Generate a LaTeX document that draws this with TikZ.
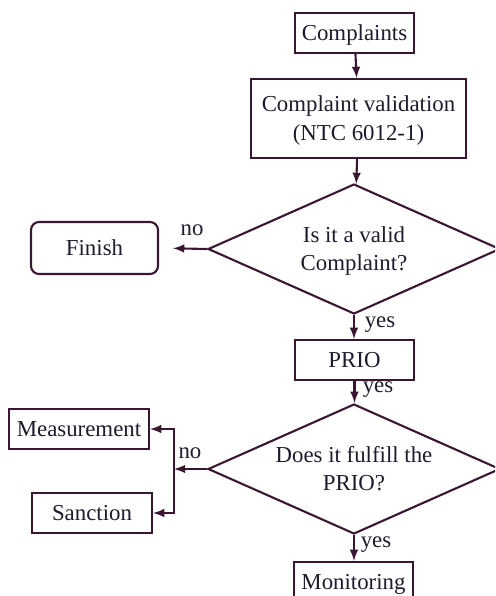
\documentclass[tikz,border=0pt]{standalone}
\usepackage{fontspec}
\setmainfont{Liberation Serif}
\usetikzlibrary{shapes.geometric}
\definecolor{plum}{HTML}{3A1730}
\definecolor{ink}{HTML}{1C1C2C}
\begin{document}
\begin{tikzpicture}[x=0.02cm,y=-0.02cm,
  line width=1.2pt,draw=plum,
  every node/.style={text=ink,font=\fontsize{13}{15.5}\selectfont},
  box/.style={draw=plum,rectangle,inner sep=0pt,minimum height=0.8cm,align=center,text height=8.6pt,text depth=0pt},
  decide/.style={draw=plum,diamond,aspect=2.25,inner sep=0pt,minimum width=5.84cm,minimum height=2.6cm,align=center,text height=24.1pt,text depth=0pt},
  flow/.style={draw=plum,->,>=latex}]

\useasboundingbox (0,0) rectangle (495,596);
\clip (0,0) rectangle (495,596);

\node[box,minimum width=2.38cm] (compl) at (354.5,33) {Complaints};
\node[box,minimum width=4.3cm,minimum height=1.58cm,text height=25.6pt,font=\fontsize{13}{17}\selectfont] (valid) at (358.5,118.5) {Complaint validation\\(NTC 6012-1)};
\node[decide] (isvalid) at (354,249) {Is it a valid\\Complaint?};
\node[box,rounded corners=0.16cm,minimum width=2.54cm,minimum height=1.04cm] (fin) at (94.5,248) {Finish};
\node[box,minimum width=2.38cm] (prio) at (354.5,360) {PRIO};
\node[decide] (fulfil) at (354,469) {Does it fulfill the\\PRIO?};
\node[box,minimum width=2.8cm] (meas) at (79,429) {Measurement};
\node[box,minimum width=2.4cm] (sanc) at (92,513) {Sanction};
\node[box,minimum width=2.38cm] (monit) at (353.5,582) {Monitoring};
\coordinate (split) at (174,469);

\draw[flow] (compl) -- (valid);
\draw[flow] (valid) -- (isvalid);
\draw[flow,shorten >=0.28cm] (isvalid.west) -- (fin.east);
\draw[flow] (isvalid.south) -- (isvalid.south |- prio.north);
\draw[flow] (prio) -- (prio.south |- fulfil.north);
\draw[flow] (fulfil.west) -- (split);
\draw[flow] (split) |- (meas.east);
\draw[flow] (split) |- (sanc.east);
\draw[flow] (fulfil.south) -- (fulfil.south |- monit.north);

\node (no1) at (192,230) {no};
\node (yes1) at (380,325) {yes};
\node (yes2) at (378,390) {yes};
\node (no2) at (190,453) {no};
\node (yes3) at (376,545) {yes};
\end{tikzpicture}
\end{document}
